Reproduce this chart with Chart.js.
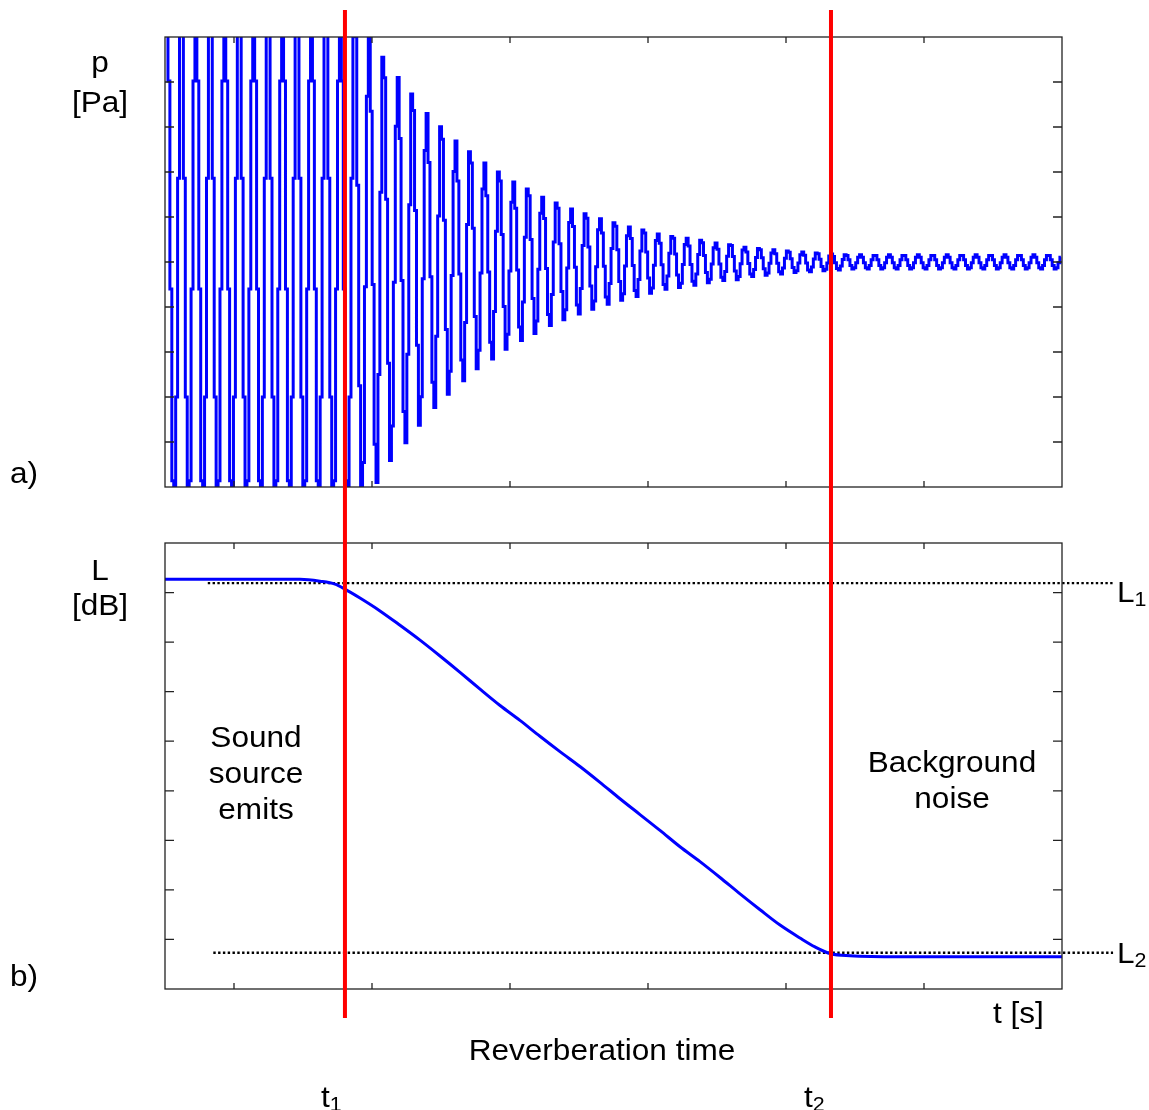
<!DOCTYPE html>
<html>
<head>
<meta charset="utf-8">
<title>Reverberation time</title>
<script src="https://cdn.jsdelivr.net/npm/chart.js@4.4.1/dist/chart.umd.min.js"></script>
<style>
  html, body { margin: 0; padding: 0; background: #fff; }
  #wrap { position: relative; width: 1149px; height: 1110px; overflow: hidden;
          font-family: "Liberation Sans", Arial, sans-serif; }
  canvas { position: absolute; left: 0; }
  #pressure { top: 0; }
  #level { top: 515px; }
  .lbl { position: absolute; font-size: 29.5px; line-height: 30px; white-space: nowrap; color: #000; }
  .c { transform: translateX(-50%) scaleX(1.07); }
  .l { transform-origin: 0 0; transform: scaleX(1.07); }
  .lbl sub { font-size: 20px; vertical-align: -4px; line-height: 0; }
</style>
</head>
<body>
<div id="wrap">
  <canvas id="pressure" width="1149" height="515"></canvas>
  <canvas id="level" width="1149" height="595"></canvas>

  <div class="lbl c" style="left:100px; top:47px;">p</div>
  <div class="lbl c" style="left:100px; top:87px;">[Pa]</div>
  <div class="lbl l" style="left:10px; top:458px;">a)</div>

  <div class="lbl c" style="left:100px; top:555px;">L</div>
  <div class="lbl c" style="left:100px; top:590px;">[dB]</div>
  <div class="lbl l" style="left:10px; top:961px;">b)</div>

  <div class="lbl c" style="left:256px; top:722px;">Sound</div>
  <div class="lbl c" style="left:256px; top:758px;">source</div>
  <div class="lbl c" style="left:256px; top:794px;">emits</div>

  <div class="lbl c" style="left:952px; top:747px;">Background</div>
  <div class="lbl c" style="left:952px; top:783px;">noise</div>

  <div class="lbl l" style="left:1117px; top:577px;">L<sub>1</sub></div>
  <div class="lbl l" style="left:1117px; top:938px;">L<sub>2</sub></div>

  <div class="lbl l" style="left:993px; top:998px;">t [s]</div>
  <div class="lbl c" style="left:602px; top:1035px;">Reverberation time</div>
  <div class="lbl l" style="left:321px; top:1082px;">t<sub>1</sub></div>
  <div class="lbl l" style="left:804px; top:1082px;">t<sub>2</sub></div>
</div>

<script>
// ---- Data ----
const tMax = 6.5;
const timeTicks = [0.5, 1.5, 2.5, 3.5, 4.5, 5.5];
const pressureTicks = [-4, -3, -2, -1, 0, 1, 2, 3, 4];
const levelTicks = [1, 2, 3, 4, 5, 6, 7, 8];

// a) pressure: one peak amplitude per oscillation cycle (clipped ones above 5)
const cycleStart = 0.0145;
const cyclePeriod = 0.1047;
// sampled (staircase) shape of two consecutive cycles, 7.5 samples per cycle
const pairShape = [1, 0.67, -0.1, -0.81, -0.98, -0.5, 0.31, 0.91,
                   0.91, 0.31, -0.5, -0.98, -0.81, -0.1, 0.67];
const cycleAmp = [
  6, 6, 6, 6, 6, 6, 6, 6, 6, 6, 6, 6, 6,
  5.5, 5.0, 4.5, 4.1, 3.7, 3.3, 3.0, 2.69, 2.42, 2.2,
  1.98, 1.78, 1.62, 1.44, 1.31, 1.18, 1.07, 0.96, 0.87, 0.78,
  0.71, 0.62, 0.58, 0.53, 0.47, 0.42, 0.40, 0.33, 0.30, 0.27,
  0.24, 0.22, 0.20, 0.18,
  0.16, 0.16, 0.16, 0.16, 0.16, 0.16, 0.16, 0.16, 0.16, 0.16,
  0.16, 0.16, 0.16, 0.16, 0.16
];

// b) sound level decay
const levelTime = [0, 0.254, 0.616, 0.978, 1.123, 1.232, 1.304, 1.413, 1.558, 1.703,
  1.848, 1.993, 2.138, 2.283, 2.428, 2.572, 2.717, 2.862, 3.007, 3.152,
  3.297, 3.442, 3.587, 3.732, 3.877, 4.022, 4.167, 4.312, 4.457, 4.601,
  4.710, 4.826, 4.964, 5.326, 5.688, 6.051, 6.5];
const levelDb = [8.27, 8.27, 8.27, 8.27, 8.23, 8.17, 8.07, 7.89, 7.63, 7.34,
  7.04, 6.72, 6.39, 6.05, 5.72, 5.42, 5.10, 4.79, 4.49, 4.17,
  3.84, 3.52, 3.20, 2.87, 2.57, 2.25, 1.92, 1.60, 1.29, 1.03,
  0.85, 0.71, 0.67, 0.65, 0.65, 0.65, 0.65];

const t1 = 1.304;
const t2 = 4.826;
const L1 = 8.19;
const L2 = 0.73;
const L1Start = 0.31;
const L2Start = 0.35;
const levelLineEnd = 6.87;

// ---- Build series ----
// samples 0..7 of a pair belong to the first cycle, 8..14 to the second
const pressurePoints = [];
const step = 2 * cyclePeriod / pairShape.length;
for (let p = 0; p * 2 < cycleAmp.length; p++) {
  pairShape.forEach((s, j) => {
    const amp = cycleAmp[Math.min(2 * p + (j < 8 ? 0 : 1), cycleAmp.length - 1)];
    pressurePoints.push({ x: cycleStart + 2 * p * cyclePeriod + j * step, y: amp * s });
  });
}
const levelPoints = levelTime.map((t, i) => ({ x: t, y: levelDb[i] }));

// ---- Frame, inward ticks and t1/t2 markers ----
const framePlugin = {
  id: "frame",
  afterDatasetsDraw(chart, args, opts) {
    const { ctx, chartArea: a, scales: { x, y } } = chart;
    ctx.save();
    ctx.strokeStyle = "#222";
    ctx.lineWidth = 1.3;
    ctx.strokeRect(a.left, a.top, a.right - a.left, a.bottom - a.top);
    ctx.beginPath();
    timeTicks.forEach(v => {
      const px = x.getPixelForValue(v);
      ctx.moveTo(px, a.bottom); ctx.lineTo(px, a.bottom - 6);
      ctx.moveTo(px, a.top); ctx.lineTo(px, a.top + 6);
    });
    opts.yTicks.forEach(v => {
      const py = y.getPixelForValue(v);
      ctx.moveTo(a.left, py); ctx.lineTo(a.left + 9, py);
      ctx.moveTo(a.right, py); ctx.lineTo(a.right - 9, py);
    });
    ctx.stroke();

    ctx.strokeStyle = "#ff0000";
    ctx.lineWidth = 4;
    ctx.beginPath();
    [t1, t2].forEach(v => {
      const px = x.getPixelForValue(v);
      ctx.moveTo(px, opts.redFrom); ctx.lineTo(px, opts.redTo);
    });
    ctx.stroke();
    ctx.restore();
  }
};

function baseOptions(yMin, yMax, padding, frame) {
  return {
    responsive: false,
    devicePixelRatio: 1,
    animation: false,
    events: [],
    layout: { padding },
    elements: { point: { radius: 0 } },
    plugins: { legend: { display: false }, tooltip: { enabled: false }, frame },
    scales: {
      x: { type: "linear", min: 0, max: tMax, display: false },
      y: { type: "linear", min: yMin, max: yMax, display: false }
    }
  };
}

// ---- Charts ----
new Chart(document.getElementById("pressure"), {
  type: "line",
  data: {
    datasets: [{
      data: pressurePoints,
      borderColor: "#0000ff",
      borderWidth: 3,
      stepped: "middle"
    }]
  },
  options: baseOptions(-5, 5, { left: 165, right: 87, top: 37, bottom: 28 },
    { yTicks: pressureTicks, redFrom: 10, redTo: 515 }),
  plugins: [framePlugin]
});

new Chart(document.getElementById("level"), {
  type: "line",
  data: {
    datasets: [
      {
        data: levelPoints,
        borderColor: "#0000ff",
        borderWidth: 3,
        cubicInterpolationMode: "monotone"
      },
      {
        data: [{ x: L1Start, y: L1 }, { x: levelLineEnd, y: L1 }],
        borderColor: "#000",
        borderWidth: 2.4,
        borderDash: [2.4, 2.4],
        clip: false
      },
      {
        data: [{ x: L2Start, y: L2 }, { x: levelLineEnd, y: L2 }],
        borderColor: "#000",
        borderWidth: 2.4,
        borderDash: [2.4, 2.4],
        clip: false
      }
    ]
  },
  options: baseOptions(0, 9, { left: 165, right: 87, top: 28, bottom: 121 },
    { yTicks: levelTicks, redFrom: 0, redTo: 503 }),
  plugins: [framePlugin]
});
</script>
</body>
</html>
